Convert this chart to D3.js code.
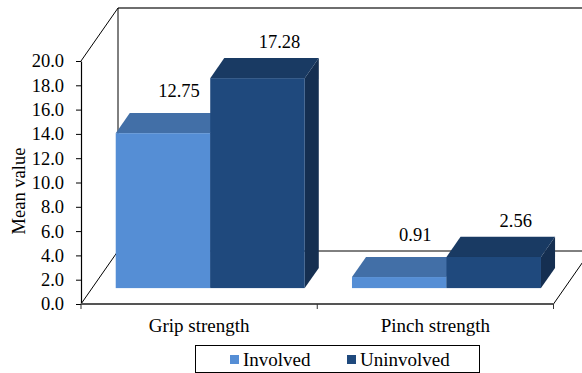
<!DOCTYPE html>
<html>
<head>
<meta charset="utf-8">
<script src="https://cdn.jsdelivr.net/npm/d3@7"></script>
<style>
  html, body { margin: 0; padding: 0; background: #fff; }
  svg { display: block; }
</style>
</head>
<body>
<svg id="chart" width="582" height="373"></svg>
<script>
// Data
const categories = ["Grip strength", "Pinch strength"];
const seriesNames = ["Involved", "Uninvolved"];
const involved = [12.75, 0.91];
const uninvolved = [17.28, 2.56];
const yTicks = [0, 2, 4, 6, 8, 10, 12, 14, 16, 18, 20];

(function () {
const FONT = "Liberation Serif";
const seriesValues = [involved, uninvolved];

// Face colours per series: front, top, side
const palette = [
  { front: "#558ED5", top: "#426FA7", side: "#3A6496" },
  { front: "#1F497D", top: "#193A63", side: "#152F51" }
];

const plotLeft = 81, plotRight = 553.5, plotTop = 61, plotBottom = 304;
// Oblique depth of the 3D box (full depth)
const depthX = 37, depthY = 53;
// Bars sit between these fractions of the depth
const d0 = 0.30, d1 = 0.68;

const svg = d3.select("#chart");

const y = d3.scaleLinear().domain([0, 20]).range([plotBottom, plotTop]);
const x0 = d3.scaleBand().domain(categories).range([plotLeft, plotRight]).padding(0);
const bw = x0.bandwidth();
const x1 = d3.scaleBand().domain(seriesNames).range([bw * 0.1, bw * 0.9]).padding(0);

// projection: front-plane coordinates + depth fraction -> screen
const P = (xf, v, d) => [xf + d * depthX, y(v) - d * depthY];

// ---- Walls / floor outline ----
const frame = svg.append("g").attr("fill", "none");
function seg(xa, ya, xb, yb, stroke, width) {
  frame.append("line")
    .attr("x1", xa).attr("y1", ya).attr("x2", xb).attr("y2", yb)
    .attr("stroke", stroke).attr("stroke-width", width);
}
// back wall top edge
seg(plotLeft + depthX, plotTop - depthY, plotRight + depthX, plotTop - depthY, "#6e6e6e", 2);
// back wall left edge
seg(plotLeft + depthX, plotTop - depthY, plotLeft + depthX, plotBottom - depthY, "#000", 1);
// side wall top diagonal
seg(plotLeft, plotTop, plotLeft + depthX, plotTop - depthY, "#000", 1);
// floor back edge
seg(plotLeft + depthX, plotBottom - depthY, plotRight + depthX, plotBottom - depthY, "#000", 1);
// floor left diagonal
seg(plotLeft, plotBottom, plotLeft + depthX, plotBottom - depthY, "#000", 1);
// floor right diagonal
seg(plotRight, plotBottom, plotRight + depthX, plotBottom - depthY, "#000", 1);

// ---- Bars ----
const barsG = svg.append("g");
const line = d3.line();
categories.forEach((cat, ci) => {
  seriesNames.forEach((s, si) => {
    const v = seriesValues[si][ci];
    const xa = x0(cat) + x1(s);
    const xb = xa + x1.bandwidth();
    const c = palette[si];
    const g = barsG.append("g");
    // side face
    g.append("path")
      .attr("d", line([P(xb, 0, d0), P(xb, v, d0), P(xb, v, d1), P(xb, 0, d1)]) + "Z")
      .attr("fill", c.side);
    // top face
    g.append("path")
      .attr("d", line([P(xa, v, d0), P(xa, v, d1), P(xb, v, d1), P(xb, v, d0)]) + "Z")
      .attr("fill", c.top);
    // front face
    const [fx0, fy0] = P(xa, v, d0);
    const [fx1, fy1] = P(xb, 0, d0);
    g.append("rect")
      .attr("x", fx0).attr("y", fy0)
      .attr("width", fx1 - fx0).attr("height", fy1 - fy0)
      .attr("fill", c.front);
  });
});

// ---- Value labels ----
const labelShift = [{ dx: 2, dy: -16 }, { dx: 8, dy: -10 }];
categories.forEach((cat, ci) => {
  seriesNames.forEach((s, si) => {
    const v = seriesValues[si][ci];
    const xc = x0(cat) + x1(s) + x1.bandwidth() / 2;
    const [lx, ly] = P(xc, v, d1);
    svg.append("text")
      .attr("x", lx + labelShift[si].dx)
      .attr("y", ly + labelShift[si].dy)
      .attr("text-anchor", "middle")
      .attr("font-family", FONT)
      .attr("font-size", 18.5)
      .attr("fill", "#000")
      .text(v.toFixed(2));
  });
});

// ---- Y axis ----
const yAxis = d3.axisLeft(y).tickValues(yTicks).tickFormat(d3.format(".1f"))
  .tickSize(5).tickSizeOuter(0).tickPadding(12);
const yg = svg.append("g").attr("transform", `translate(${plotLeft},0)`).call(yAxis);
yg.attr("font-family", FONT).attr("font-size", 18.5);
yg.select(".domain").attr("stroke", "#000").attr("stroke-width", 1.2);
yg.selectAll(".tick line").attr("stroke", "#000");
yg.selectAll(".tick text")
  .attr("font-family", FONT)
  .attr("font-size", 18.5).attr("fill", "#000");

// ---- X axis (front floor edge) ----
svg.append("line")
  .attr("x1", plotLeft).attr("y1", plotBottom).attr("x2", plotRight).attr("y2", plotBottom)
  .attr("stroke", "#555").attr("stroke-width", 2);
const boundaries = categories.map(c => x0(c)).concat([x0(categories[categories.length - 1]) + bw]);
svg.selectAll(".xtick").data(boundaries).join("line")
  .attr("class", "xtick")
  .attr("x1", d => d).attr("x2", d => d)
  .attr("y1", plotBottom).attr("y2", plotBottom + 5)
  .attr("stroke", "#333").attr("stroke-width", 1);
svg.selectAll(".xlabel").data(categories).join("text")
  .attr("class", "xlabel")
  .attr("x", d => x0(d) + bw / 2)
  .attr("y", 332)
  .attr("text-anchor", "middle")
  .attr("font-family", FONT)
  .attr("font-size", 19)
  .attr("fill", "#000")
  .text(d => d);

// ---- Y axis title ----
svg.append("text")
  .attr("transform", "translate(25,191) rotate(-90)")
  .attr("text-anchor", "middle")
  .attr("font-family", FONT)
  .attr("font-size", 18.5)
  .attr("fill", "#000")
  .text("Mean value");

// ---- Legend ----
const legend = svg.append("g");
legend.append("rect")
  .attr("x", 195.5).attr("y", 345.5).attr("width", 284).attr("height", 27)
  .attr("fill", "#fff").attr("stroke", "#000").attr("stroke-width", 1);
const legendX = [230, 347];
seriesNames.forEach((s, i) => {
  legend.append("rect")
    .attr("x", legendX[i]).attr("y", 355).attr("width", 9).attr("height", 9)
    .attr("fill", palette[i].front);
  legend.append("text")
    .attr("x", legendX[i] + 13).attr("y", 366)
    .attr("font-family", FONT)
    .attr("font-size", 19).attr("fill", "#000")
    .text(s);
});
})();
</script>
</body>
</html>
